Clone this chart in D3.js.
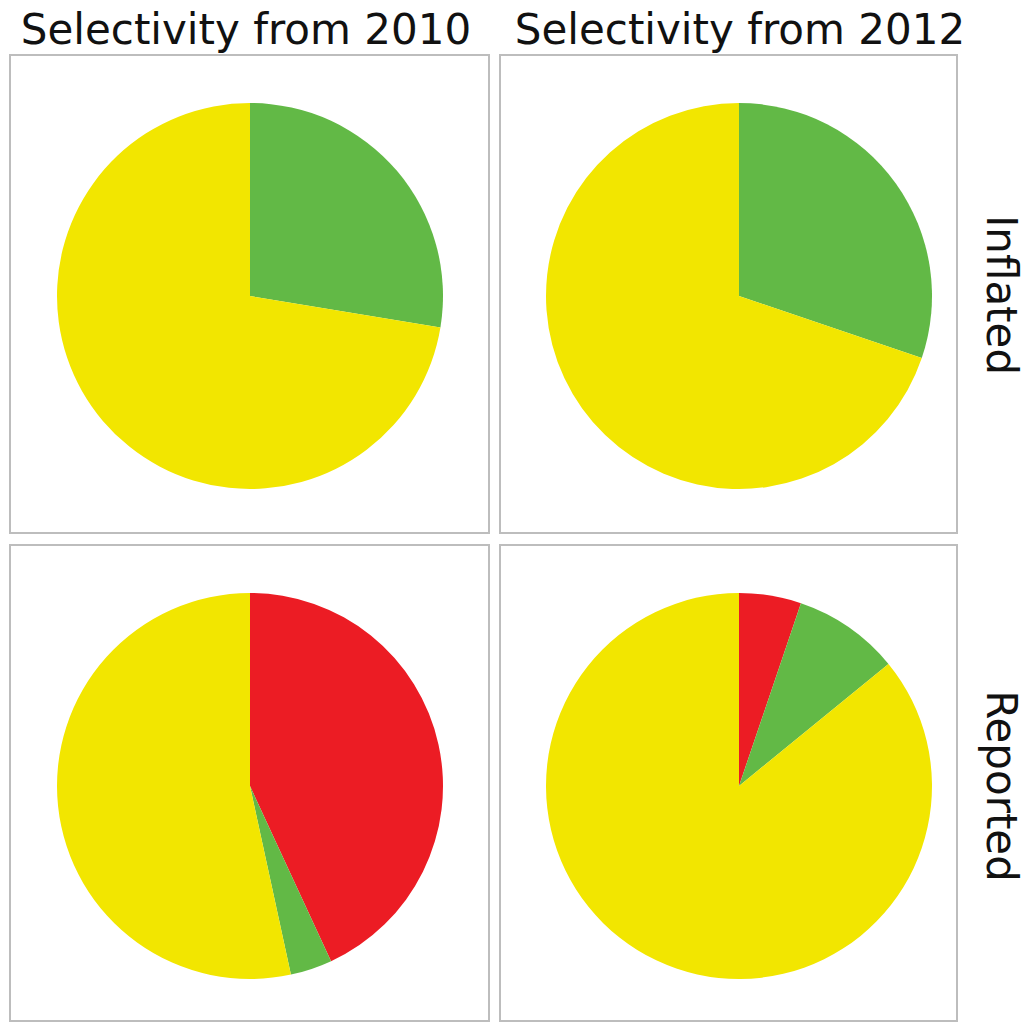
<!DOCTYPE html>
<html><head><meta charset="utf-8">
<script src="https://cdn.jsdelivr.net/npm/d3@7"></script>
<style>body{margin:0;background:#fff}</style>
</head><body>
<svg id="c" width="1027" height="1023"></svg>
<script>
const columns = ["Selectivity from 2010", "Selectivity from 2012"];
const rows = ["Inflated", "Reported"];
const categories = ["Red", "Green", "Yellow"];
const inflated2010 = [0, 27.6, 72.4];
const inflated2012 = [0, 30.2, 69.8];
const reported2010 = [43.1, 3.5, 53.4];
const reported2012 = [5.2, 8.9, 85.9];
const colors = ["#ec1c24", "#62b946", "#f2e600"];

const panels = [
  {row: 0, col: 0, values: inflated2010},
  {row: 0, col: 1, values: inflated2012},
  {row: 1, col: 0, values: reported2010},
  {row: 1, col: 1, values: reported2012}
];

const svg = d3.select("#c");
const colX = [[10, 489], [500, 957]];
const rowY = [[55, 533], [545, 1021]];
const color = d3.scaleOrdinal().domain(categories).range(colors);
const pie = d3.pie().sort(null).value(d => d.v);
const radius = 193;
const arc = d3.arc().innerRadius(0).outerRadius(radius);

panels.forEach(p => {
  const [x0, x1] = colX[p.col], [y0, y1] = rowY[p.row];
  svg.append("rect").attr("x", x0).attr("y", y0).attr("width", x1 - x0).attr("height", y1 - y0)
    .attr("fill", "#fff").attr("stroke", "#bdbdbd").attr("stroke-width", 2);
  const cx = p.col === 0 ? 250 : 739;
  const cy = p.row === 0 ? 296 : 786;
  const g = svg.append("g").attr("transform", `translate(${cx},${cy})`);
  const data = categories.map((c, i) => ({c, v: p.values[i]}));
  g.selectAll("path").data(pie(data)).join("path")
    .attr("d", arc).attr("fill", d => color(d.data.c));
});

columns.forEach((t, i) => {
  svg.append("text").attr("x", i === 0 ? 246 : 740).attr("y", 44)
    .attr("text-anchor", "middle").attr("font-family", "DejaVu Sans")
    .attr("font-size", 42).attr("fill", "#111").text(t);
});
rows.forEach((t, i) => {
  const cy = i === 0 ? 295 : 786;
  svg.append("text").attr("transform", `translate(987,${cy}) rotate(90)`)
    .attr("text-anchor", "middle").attr("font-family", "DejaVu Sans")
    .attr("font-size", 42).attr("fill", "#111").text(t);
});
</script>
</body></html>
